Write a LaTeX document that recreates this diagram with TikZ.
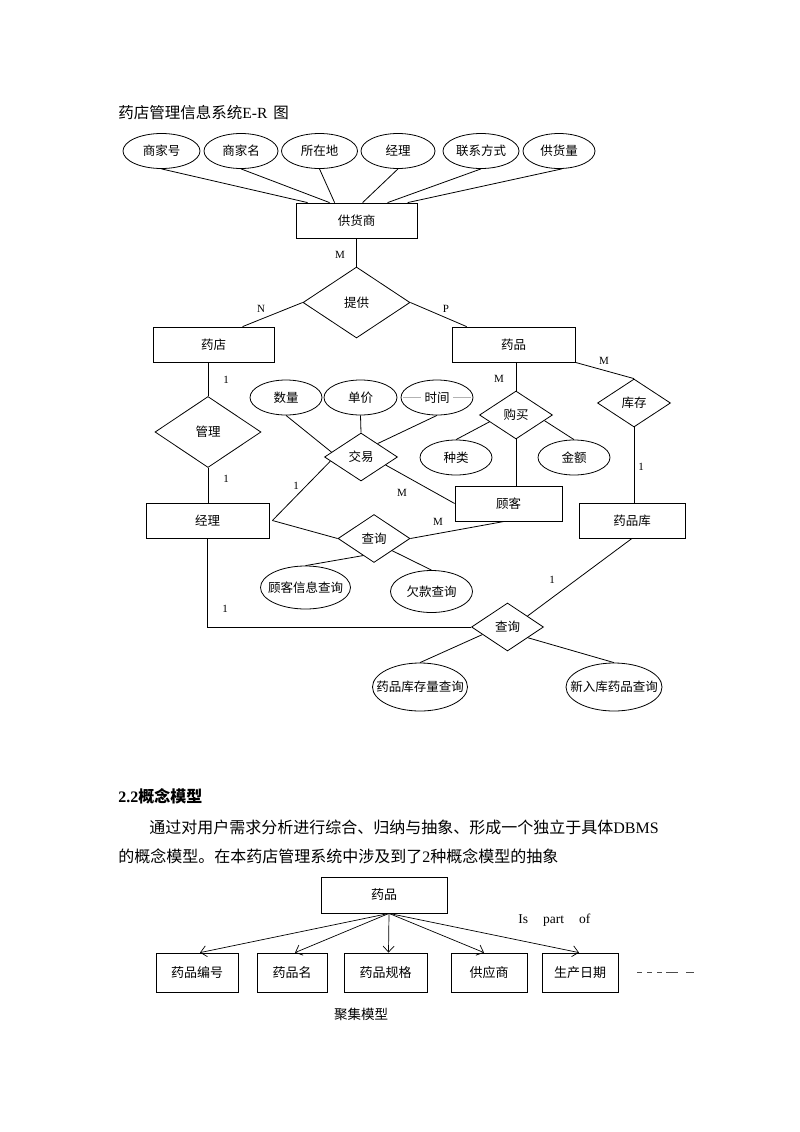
\documentclass[tikz,border=0pt]{standalone}
\usepackage{fontspec}
\setmainfont{Liberation Serif}
\newfontfamily\cjk{Noto Sans CJK SC}
\newcommand\zw[1]{\makebox[0pt]{#1}}
\usetikzlibrary{shapes.geometric,calc,arrows.meta}
\begin{document}
\begin{tikzpicture}[x=1pt,y=-1pt,line width=0.8pt,
  every node/.style={font=\cjk\fontsize{12.5}{14}\selectfont},
  ent/.style={draw, rectangle, inner sep=0pt, minimum height=35pt},
  attr/.style={draw, ellipse, inner sep=0pt, minimum width=74pt, minimum height=35pt},
  rel/.style={draw, diamond, inner sep=0pt, minimum width=73pt, minimum height=48pt},
  card/.style={font=\fontsize{11}{12}\selectfont, inner sep=0pt},
  part/.style={draw, rectangle, inner sep=0pt, minimum height=39pt, font=\cjk\fontsize{13}{15}\selectfont},
  partarrow/.style={-{Straight Barb[length=6pt,width=11pt]}, line width=0.7pt},
  body/.style={anchor=west, inner sep=0pt, font=\cjk\fontsize{16}{19}\selectfont}]
\fill[white] (0,0) rectangle (800,1132);
\useasboundingbox (0,0) rectangle (800,1132);

% title
\node[anchor=west, inner sep=0pt, font=\cjk\fontsize{15.5}{18}\selectfont] (title) at (118,113) {药店管理信息系统{\rmfamily E-R}\hspace{6pt}图};

% supplier attributes
\node[attr, minimum width=77pt] (a1) at (161.5,151) {\zw{商家号}};
\node[attr, minimum width=74pt] (a2) at (241,151) {\zw{商家名}};
\node[attr, minimum width=76pt] (a3) at (319.5,151) {\zw{所在地}};
\node[attr, minimum width=74pt] (a4) at (398,151) {\zw{经理}};
\node[attr, minimum width=76pt] (a5) at (481,151) {\zw{联系方式}};
\node[attr, minimum width=72pt] (a6) at (559,151) {\zw{供货量}};
\node[ent, minimum width=121pt] (gys) at (356.5,220.5) {供货商};
\draw (a1.south) -- ([xshift=12pt]gys.north west);
\draw (a2.south) -- ([xshift=34pt]gys.north west);
\draw (a3.south) -- ([xshift=39pt]gys.north west);
\draw (a4.south) -- ([xshift=67pt]gys.north west);
\draw (a5.south) -- ([xshift=92pt]gys.north west);
\draw (a6.-80) -- ([xshift=112pt]gys.north west);

% provide
\node[rel, minimum width=107pt, minimum height=71pt] (tg) at (356.5,302.5) {提供};
\draw (gys.south) -- (tg.north);
\node[ent, minimum width=121pt] (yd) at (213.5,344.5) {药店};
\node[ent, minimum width=123pt] (yp) at (513.5,344.5) {药品};
\draw (tg.west) -- ([xshift=90pt]yd.north west);
\draw (tg.east) -- ([xshift=15pt]yp.north west);
\node[card] (cM1) at (340,255) {M};
\node[card] (cN) at (261,309) {N};
\node[card] (cP) at (446,309) {P};

% manage
\node[rel, minimum width=106pt, minimum height=71pt] (gl) at (208,432) {管理};
\node[ent, minimum width=123pt] (jl) at (207.5,520.5) {经理};
\draw (gl.north) -- (gl.north |- yd.south);
\draw (gl.south) -- (gl.south |- jl.north);
\node[card] (c11) at (226,380) {1};
\node[card] (c12) at (226,479) {1};

% stock
\node[rel] (kc) at (634,403) {库存};
\node[ent, minimum width=106pt] (ypk) at (632,520.5) {药品库};
\draw (yp.south east) -- (kc.north);
\draw (kc.south) -- (kc.south |- ypk.north);
\node[card] (cM2) at (604,361) {M};
\node[card] (c13) at (641,467) {1};

% buy
\node[rel] (gm) at (516,415) {购买};
\node[ent, minimum width=107pt] (gk) at (508.5,503.5) {顾客};
\draw (gm.north) -- (gm.north |- yp.south);
\draw (gm.south) -- (gm.south |- gk.north);
\node[attr, minimum width=72pt] (zl) at (456,457.5) {\zw{种类}};
\node[attr, minimum width=72pt] (je) at (574,457.5) {\zw{金额}};
\draw (zl.north) -- ($(gm.west)!0.28!(gm.south)$);
\draw (je.north) -- ($(gm.east)!0.23!(gm.south)$);
\node[card] (cM3) at (499,379) {M};

% trade
\node[rel] (jy) at (361,457) {交易};
\node[attr, minimum width=72pt] (sl) at (286,397.5) {\zw{数量}};
\node[attr, minimum width=73pt] (dj) at (360.5,397.5) {\zw{单价}};
\draw[black!30, line width=0.5pt] (403,397.5) -- (421,397.5) (453,397.5) -- (471,397.5);
\node[attr, minimum width=72pt] (sj) at (437,397.5) {\zw{时间}};
\draw (sl.south) -- ($(jy.west)!0.2!(jy.north)$);
\draw (dj.south) -- (jy.north);
\draw (sj.south) -- ($(jy.east)!0.55!(jy.north)$);
\coordinate (jp) at ([xshift=3pt]jl.east);
\draw (jp) -- ($(jy.west)!0.17!(jy.south)$);
\draw ($(jy.east)!0.33!(jy.south)$) -- (gk.west);
\node[card] (c14) at (296,486) {1};
\node[card] (cM4) at (402,493) {M};

% query 1
\node[rel, minimum width=72pt] (cx1) at (374,538.5) {查询};
\draw (jp) -- (cx1.west);
\draw (cx1.east) -- ([xshift=-4pt]gk.south);
\node[card] (cM5) at (438,522) {M};
\node[attr, minimum width=90pt, minimum height=43pt] (gkxx) at (305.5,587.5) {\zw{顾客信息查询}};
\node[attr, minimum width=82pt, minimum height=42pt] (qk) at (431.5,591.5) {\zw{欠款查询}};
\draw ($(cx1.south)!0.3!(cx1.west)$) -- (gkxx.north);
\draw ($(cx1.south)!0.5!(cx1.east)$) -- (qk.north);

% query 2
\node[rel, minimum width=72pt] (cx2) at (507.5,627) {查询};
\draw (jl.south) |- (cx2.west);
\draw ($(cx2.north)!0.55!(cx2.east)$) -- (ypk.south);
\node[card] (c15) at (225,609) {1};
\node[card] (c16) at (552,580) {1};
\node[attr, minimum width=95pt, minimum height=48pt] (kcl) at (420,687) {\zw{药品库存量查询}};
\node[attr, minimum width=96pt, minimum height=48pt] (xrk) at (614,687) {\zw{新入库药品查询}};
\draw ($(cx2.west)!0.31!(cx2.south)$) -- (kcl.north);
\draw ($(cx2.east)!0.44!(cx2.south)$) -- (xrk.north);

% section text
\node[anchor=west, inner sep=0pt, font=\bfseries\fontsize{16}{19}\selectfont] (sec) at (118,796) {2.2{\cjk 概念模型}};
\node[body] (p1) at (149,827) {通过对用户需求分析进行综合、归纳与抽象、形成一个独立于具体{\rmfamily DBMS}};
\node[body] (p2) at (118,856) {的概念模型。在本药店管理系统中涉及到了{\rmfamily 2}种概念模型的抽象};

% aggregation model
\node[ent, minimum width=126pt, minimum height=36pt, font=\cjk\fontsize{13}{15}\selectfont] (yp2) at (384,895) {药品};
\node[part, minimum width=82pt] (b1) at (197,972.5) {药品编号};
\node[part, minimum width=70pt] (b2) at (292,972.5) {药品名};
\node[part, minimum width=83pt] (b3) at (385.5,972.5) {药品规格};
\node[part, minimum width=76pt] (b4) at (489,972.5) {供应商};
\node[part, minimum width=76pt] (b5) at (580,972.5) {生产日期};
\coordinate (o) at ([xshift=5pt]yp2.south);
\draw[partarrow] (o) -- ([xshift=3pt]b1.north);
\draw[partarrow] (o) -- ([xshift=3pt]b2.north);
\draw[partarrow] (o) -- ([xshift=3pt]b3.north);
\draw[partarrow] (o) -- ([xshift=-5pt]b4.north);
\draw[partarrow] (o) -- ([xshift=-1pt]b5.north);
\node[anchor=west, inner sep=0pt, font=\fontsize{13.5}{15}\selectfont] (ipo) at (518,920) {Is\hspace{15pt}part\hspace{15pt}of};
\coordinate (d1) at ([xshift=19pt]b5.east);
\draw[black!70, line width=0.7pt, dash pattern=on 5pt off 5pt on 5pt off 5pt on 5pt off 4pt on 12pt off 8pt on 8pt] (d1) -- ++(57,0);
\node[font=\cjk\fontsize{13.5}{15}\selectfont] (jj) at (361,1014) {聚集模型};
\end{tikzpicture}
\end{document}
